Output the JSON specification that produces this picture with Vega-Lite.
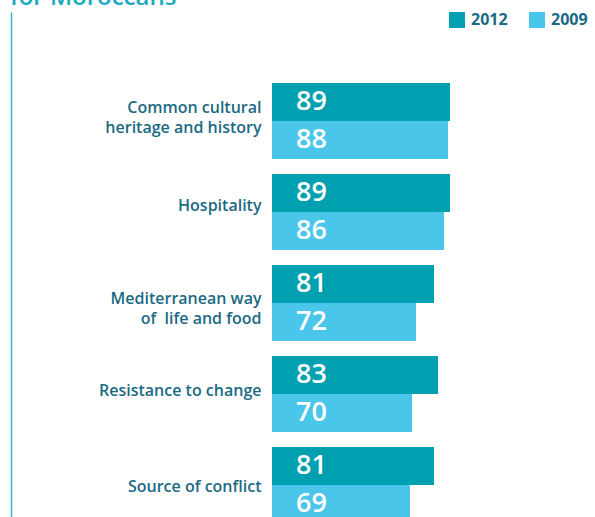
{
  "$schema": "https://vega.github.io/schema/vega-lite/v6.json",
  "width": 584,
  "height": 582,
  "autosize": {"type": "none"},
  "padding": {"left": 11, "top": 12, "right": 0, "bottom": -77},
  "title": {
    "text": "for Moroccans",
    "anchor": "start",
    "frame": "group",
    "offset": 4,
    "dy": 21,
    "dx": -1,
    "baseline": "alphabetic",
    "fontSize": 24,
    "font": "Open Sans",
    "fontWeight": 600,
    "color": "#1aa9bf"
  },
  "data": {
    "values": [
      {"category": "Common cultural heritage and history", "year": "2012", "value": 89},
      {"category": "Common cultural heritage and history", "year": "2009", "value": 88},
      {"category": "Hospitality", "year": "2012", "value": 89},
      {"category": "Hospitality", "year": "2009", "value": 86},
      {"category": "Mediterranean way of  life and food", "year": "2012", "value": 81},
      {"category": "Mediterranean way of  life and food", "year": "2009", "value": 72},
      {"category": "Resistance to change", "year": "2012", "value": 83},
      {"category": "Resistance to change", "year": "2009", "value": 70},
      {"category": "Source of conflict", "year": "2012", "value": 81},
      {"category": "Source of conflict", "year": "2009", "value": 69}
    ]
  },
  "encoding": {
    "y": {
      "field": "category",
      "type": "nominal",
      "sort": null,
      "scale": {"paddingInner": 0.165, "paddingOuter": 0.78},
      "axis": {
        "title": null,
        "domain": true,
        "domainColor": "#2bb8cc",
        "domainWidth": 1.5,
        "ticks": false,
        "grid": false,
        "labelPadding": -250,
        "labelFont": "Open Sans",
        "labelFontSize": 16,
        "labelFontWeight": 600,
        "labelColor": "#1b6a84",
        "labelLineHeight": 20,
        "labelOffset": {
          "condition": [
            {"test": "datum.value == 'Common cultural heritage and history'", "value": -13},
            {"test": "datum.value == 'Hospitality'", "value": -6},
            {"test": "datum.value == 'Mediterranean way of  life and food'", "value": -4},
            {"test": "datum.value == 'Source of conflict'", "value": 2}
          ],
          "value": -3
        },
        "labelLimit": 300,
        "labelExpr": "datum.value == 'Common cultural heritage and history' ? ['Common cultural', 'heritage and history'] : datum.value == 'Mediterranean way of  life and food' ? ['Mediterranean way', 'of \u00a0life and food'] : datum.value"
      }
    },
    "yOffset": {"field": "year", "type": "nominal", "sort": ["2012", "2009"]}
  },
  "layer": [
    {
      "mark": {"type": "bar"},
      "encoding": {
        "x": {
          "field": "value",
          "type": "quantitative",
          "scale": {"domain": [-130.5, 161.5], "nice": false, "zero": false},
          "axis": null
        },
        "color": {
          "field": "year",
          "type": "nominal",
          "scale": {"domain": ["2012", "2009"], "range": ["#00a0b0", "#4bc6eb"]},
          "legend": {
            "title": null,
            "orient": "none",
            "legendX": 438,
            "legendY": 0,
            "direction": "horizontal",
            "symbolType": "square",
            "symbolSize": 256,
            "symbolStrokeWidth": 0,
            "symbolOpacity": 1,
            "labelFont": "Open Sans",
            "labelFontSize": 16,
            "labelFontWeight": 700,
            "labelColor": "#1b6a84",
            "labelOffset": 6,
            "columnPadding": 21,
            "padding": 0
          }
        }
      }
    },
    {
      "mark": {
        "type": "text",
        "align": "left",
        "baseline": "middle",
        "dx": 24,
        "font": "Open Sans",
        "fontSize": 27,
        "fontWeight": 600,
        "color": "#ffffff"
      },
      "encoding": {
        "x": {"datum": 0},
        "text": {"field": "value", "type": "quantitative"}
      }
    }
  ],
  "config": {"view": {"stroke": null}}
}
